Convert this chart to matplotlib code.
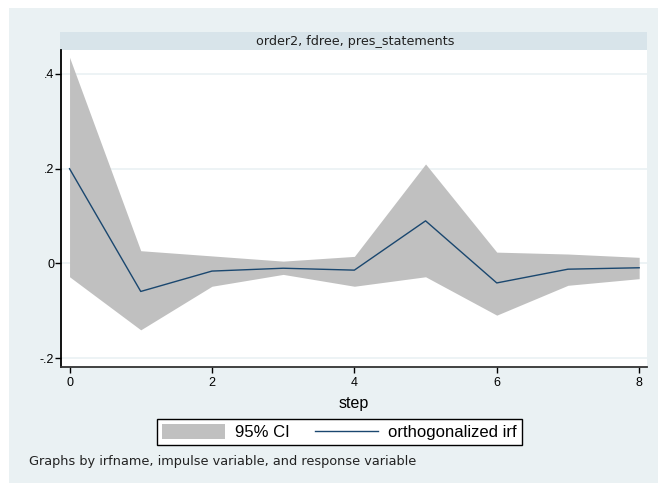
import numpy as np
import matplotlib
matplotlib.use("Agg")
import matplotlib.pyplot as plt
from matplotlib.patches import Rectangle, Patch
from matplotlib.lines import Line2D

# impulse response, orthogonalized, with 95% band
steps = [0, 1, 2, 3, 4, 5, 6, 7, 8]
irf = [0.200, -0.059, -0.016, -0.010, -0.014, 0.090, -0.041, -0.012, -0.009]
ci_upper = [0.435, 0.027, 0.016, 0.005, 0.015, 0.210, 0.024, 0.020, 0.013]
ci_lower = [-0.028, -0.140, -0.048, -0.023, -0.048, -0.028, -0.109, -0.046, -0.032]

xticks = [0, 2, 4, 6, 8]
yticks = [-0.2, 0, 0.2, 0.4]
yticklabels = ["-.2", "0", ".2", ".4"]
strip_title = "order2, fdree, pres_statements"
note = "Graphs by irfname, impulse variable, and response variable"

bg = "#eaf1f3"
strip_col = "#d8e4ea"
navy = "#1a476f"
band = "#c0c0c0"

W, H = 658, 483
fig = plt.figure(figsize=(W / 100, H / 100), dpi=100)
fig.patch.set_facecolor("white")
fig.patches.append(Rectangle((9 / W, -0.01), 1.01 - 9 / W, 1.01 - 8 / H, transform=fig.transFigure,
                             facecolor=bg, edgecolor="none", zorder=-10))

# by-group header strip
fig.patches.append(Rectangle((60 / W, 1 - 50 / H), 587 / W, 18 / H, transform=fig.transFigure,
                             facecolor=strip_col, edgecolor="none", zorder=-5))
fig.text(355 / W, 1 - 41 / H, strip_title, ha="center", va="center",
         fontsize=9.2, family="DejaVu Sans", color="#222222")

ax = fig.add_axes([61 / W, 1 - 367 / H, 586 / W, 317 / H])
ax.set_facecolor("white")

ax.fill_between(steps, ci_lower, ci_upper, color=band, linewidth=0, zorder=2)
ax.plot(steps, irf, color=navy, linewidth=1.0, zorder=3)

ax.set_xlim(-0.12, 8.11)
ax.set_ylim(-0.2184, 0.4505)
ax.set_xticks(xticks)
ax.set_yticks(yticks)
ax.set_yticklabels(yticklabels)
for y in yticks:
    ax.axhline(y, color=bg, linewidth=1.2, zorder=1)

for side in ["top", "right"]:
    ax.spines[side].set_visible(False)
ax.spines["left"].set_color("black")
ax.spines["left"].set_linewidth(1.3)
ax.spines["bottom"].set_color("#333333")
ax.spines["bottom"].set_linewidth(1.3)

ax.tick_params(axis="both", direction="out", length=4, width=1, colors="black",
               labelsize=9)
ax.tick_params(axis="y", pad=1)
ax.tick_params(axis="x", pad=3)
for lab in ax.get_xticklabels() + ax.get_yticklabels():
    lab.set_family("Liberation Sans")

ax.set_xlabel("step", fontsize=11.5, family="Liberation Sans", labelpad=5)

handles = [Patch(facecolor=band, edgecolor="none"),
           Line2D([0], [0], color=navy, linewidth=1.0)]
leg = fig.legend(handles, ["95% CI", "orthogonalized irf"], ncol=2,
                 loc="center", bbox_to_anchor=(339.5 / W, 1 - 432 / H),
                 prop={"family": "Liberation Sans", "size": 12},
                 frameon=True, fancybox=False, framealpha=1, edgecolor="black",
                 handlelength=3.8, handleheight=1.0, handletextpad=0.6,
                 columnspacing=1.5, borderpad=0.32)
leg.get_frame().set_linewidth(1.0)

fig.text(29 / W, 1 - 461 / H, note, ha="left", va="center", fontsize=9.3,
         family="DejaVu Sans", color="#222222")

fig.savefig("out.png", dpi=100, facecolor=fig.get_facecolor())
